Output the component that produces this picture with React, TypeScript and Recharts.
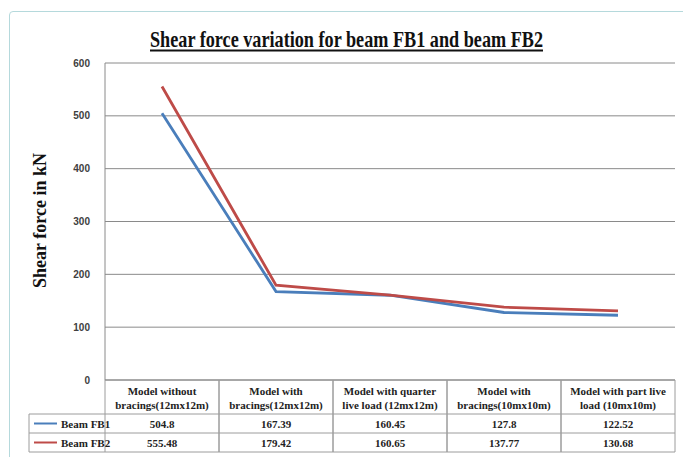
import { LineChart, Line, XAxis, YAxis, CartesianGrid } from "recharts";

const CATEGORIES = [
  "Model without\nbracings(12mx12m)",
  "Model with\nbracings(12mx12m)",
  "Model with quarter\nlive load (12mx12m)",
  "Model with\nbracings(10mx10m)",
  "Model with part live\nload (10mx10m)",
];
const BEAM_FB1 = [504.8, 167.39, 160.45, 127.8, 122.52];
const BEAM_FB2 = [555.48, 179.42, 160.65, 137.77, 130.68];
const Y_TICKS = [0, 100, 200, 300, 400, 500, 600];

const SERIES = [
  { key: "fb1", name: "Beam FB1", values: BEAM_FB1, color: "#4a7ebb" },
  { key: "fb2", name: "Beam FB2", values: BEAM_FB2, color: "#be4b48" },
];

const data = CATEGORIES.map((category, i) => ({
  category,
  fb1: BEAM_FB1[i],
  fb2: BEAM_FB2[i],
}));

const W = 683;
const H = 457;
const PLOT_LEFT = 105;
const PLOT_RIGHT = 675;
const COL_W = (PLOT_RIGHT - PLOT_LEFT) / CATEGORIES.length;
const BORDER = "#9c9c9c";
const SERIF = "'Liberation Serif', 'Times New Roman', serif";
const TEXT = "#222";

const cellText = {
  fontFamily: SERIF,
  fontWeight: "bold" as const,
  fontSize: 11,
  fill: TEXT,
};

function TableTick(props: any) {
  const { x, y, payload, index } = props;
  const left = x - COL_W / 2;
  const right = x + COL_W / 2;
  const rowTop = y + 34;
  const rowH = 19;
  const lines = String(payload.value).split("\n");
  return (
    <g>
      <line x1={left} x2={left} y1={y} y2={rowTop + rowH * 2} stroke={BORDER} />
      <line x1={right} x2={right} y1={y} y2={rowTop + rowH * 2} stroke={BORDER} />
      {[0, 1, 2].map((r) => (
        <line
          key={r}
          x1={left}
          x2={right}
          y1={rowTop + r * rowH}
          y2={rowTop + r * rowH}
          stroke={BORDER}
        />
      ))}
      <text x={x} y={y + 15} textAnchor="middle" style={cellText}>
        {lines.map((l, i) => (
          <tspan key={i} x={x} dy={i === 0 ? 0 : 14}>
            {l}
          </tspan>
        ))}
      </text>
      {SERIES.map((s, r) => (
        <text
          key={s.key}
          x={x}
          y={rowTop + r * rowH + 13.5}
          textAnchor="middle"
          style={cellText}
        >
          {s.values[index]}
        </text>
      ))}
      {index === 0 && (
        <g>
          {[0, 1, 2].map((r) => (
            <line
              key={r}
              x1={29}
              x2={left}
              y1={rowTop + r * rowH}
              y2={rowTop + r * rowH}
              stroke={BORDER}
            />
          ))}
          <line x1={29} x2={29} y1={rowTop} y2={rowTop + rowH * 2} stroke={BORDER} />
          {SERIES.map((s, r) => (
            <g key={s.key}>
              <line
                x1={34}
                x2={57}
                y1={rowTop + r * rowH + 9.5}
                y2={rowTop + r * rowH + 9.5}
                stroke={s.color}
                strokeWidth={2}
              />
              <text x={61} y={rowTop + r * rowH + 13.5} style={cellText}>
                {s.name}
              </text>
            </g>
          ))}
        </g>
      )}
    </g>
  );
}

function YLabel(props: any) {
  const { viewBox } = props;
  const cy = viewBox.y + viewBox.height / 2 - 1;
  const cx = 40;
  return (
    <text
      x={cx}
      y={cy}
      transform={`rotate(-90, ${cx}, ${cy})`}
      textAnchor="middle"
      dominantBaseline="central"
      style={{ fontFamily: SERIF, fontWeight: "bold", fontSize: 18, fill: "#111" }}
    >
      Shear force in kN
    </text>
  );
}

export default function App() {
  return (
    <div
      style={{
        position: "absolute",
        left: 0,
        top: 0,
        width: W,
        height: H,
        background: "#fff",
        overflow: "hidden",
      }}
    >
      <div
        style={{
          position: "absolute",
          left: 9,
          top: 11,
          width: W,
          height: H,
          border: "1px solid #b5d9dc",
          borderRadius: 4,
        }}
      />
      <svg
        width={W}
        height={60}
        style={{ position: "absolute", left: 0, top: 0 }}
      >
        <text
          x={346.5}
          y={47}
          textAnchor="middle"
          textLength={393}
          lengthAdjust="spacingAndGlyphs"
          style={{ fontFamily: SERIF, fontWeight: "bold", fontSize: 23, fill: "#111" }}
        >
          Shear force variation for beam FB1 and beam FB2
        </text>
        <line x1={150} x2={543} y1={50.5} y2={50.5} stroke="#111" strokeWidth={2} />
      </svg>
      <LineChart
        width={W}
        height={H}
        data={data}
        margin={{ top: 63, right: W - PLOT_RIGHT, bottom: 5, left: 0 }}
        style={{ position: "absolute", left: 0, top: 0 }}
      >
        <CartesianGrid vertical={false} stroke="#8a8a8a" />
        <XAxis
          dataKey="category"
          interval={0}
          height={72}
          tickSize={0}
          tickMargin={0}
          tickLine={false}
          axisLine={{ stroke: "#8a8a8a" }}
          padding={{ left: COL_W / 2, right: COL_W / 2 }}
          tick={<TableTick />}
        />
        <YAxis
          width={PLOT_LEFT}
          domain={[0, 600]}
          ticks={Y_TICKS}
          tickLine={false}
          tickMargin={9}
          axisLine={{ stroke: "#8a8a8a" }}
          tick={{
            fontSize: 10,
            fontWeight: "bold",
            fill: "#404040",
            fontFamily: "'Liberation Sans', Arial, sans-serif",
          }}
          label={<YLabel />}
        />
        {SERIES.map((s) => (
          <Line
            key={s.key}
            dataKey={s.key}
            name={s.name}
            stroke={s.color}
            strokeWidth={2.8}
            dot={false}
            isAnimationActive={false}
          />
        ))}
      </LineChart>
    </div>
  );
}
